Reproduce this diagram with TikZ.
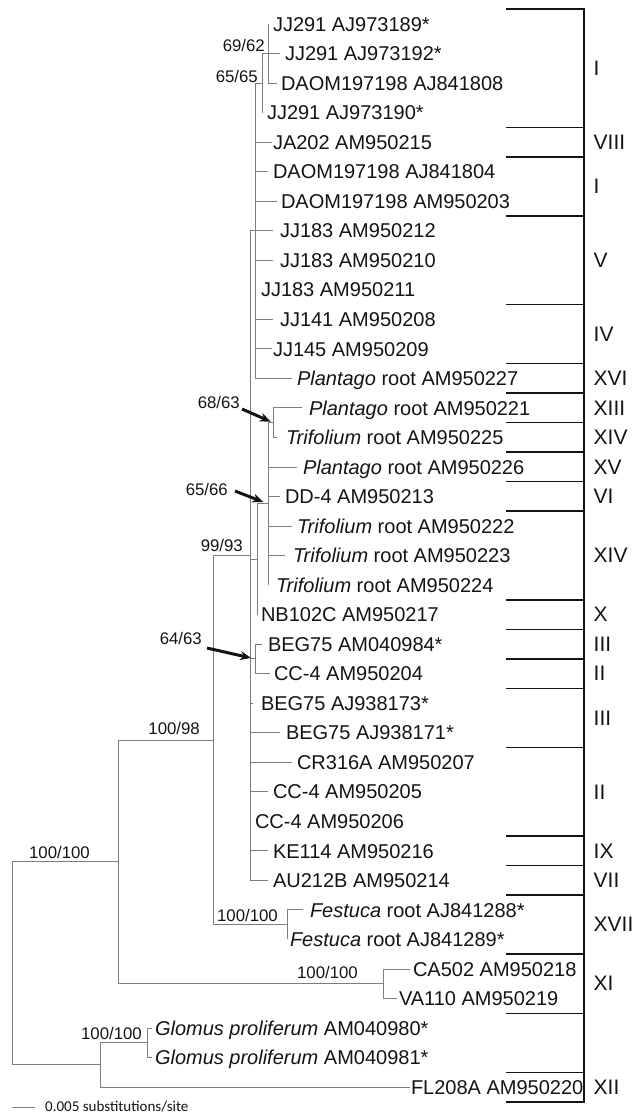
\documentclass[tikz,border=0pt]{standalone}
\usepackage{fontspec}
\setmainfont{Liberation Sans}
\newfontfamily\sbfont{Carlito}
\usetikzlibrary{arrows.meta}
\definecolor{treegray}{RGB}{125,125,125}
\definecolor{inkblack}{RGB}{20,20,20}
\newcommand\ry[1]{(24+((#1)-1)*29.53)}
\newcommand\by[1]{(24+((#1)-0.5)*29.53)}
\begin{document}
\begin{tikzpicture}[x=1pt,y=-1pt,
  branch/.style={draw=treegray,line width=0.9pt},
  bracket/.style={draw=inkblack,line width=1.5pt,line cap=rect},
  leaf/.style={anchor=base west,inner sep=0pt,text=inkblack,font=\fontsize{20}{24}\selectfont},
  suplab/.style={anchor=east,inner sep=0pt,text=inkblack,font=\fontsize{16.8}{20}\selectfont},
  romanlab/.style={anchor=west,inner sep=0pt,text=inkblack,font=\fontsize{21}{25}\selectfont},
  boldarrow/.style={draw=inkblack,line width=3pt,-{Stealth[length=11pt,width=9pt]}}]
\useasboundingbox (0,0) rectangle (635,1115);

% internal nodes
\coordinate (N69)   at (268,{\ry{2}});
\coordinate (N65)   at (262,{\ry{3}});
\coordinate (E)     at (255,{\ry{8}});
\coordinate (N6863) at (273,{\ry{14.5}});
\coordinate (N6566) at (268,{\ry{17.25}});
\coordinate (H)     at (257,{\ry{19.125}});
\coordinate (N6463) at (255,{\ry{22.5}});
\coordinate (D)     at (250,{\ry{19}});
\coordinate (F)     at (287,{\ry{31.5}});
\coordinate (C)     at (213,{\ry{25.25}});
\coordinate (CA)    at (383,{\ry{33.5}});
\coordinate (B)     at (118,{\ry{29.375}});
\coordinate (GP)    at (147,{\ry{35.5}});
\coordinate (G)     at (100,{\ry{36.25}});
\coordinate (R)     at (12,{\ry{32.8125}});

% leaves
\foreach \k/\tx/\lx/\txt in {
 1/268/274/{JJ291 AJ973189*},
 2/280/286/{JJ291 AJ973192*},
 3/277/282/{DAOM197198 AJ841808},
 4/262/268/{JJ291 AJ973190*},
 5/272/274/{JA202 AM950215},
 6/268/274/{DAOM197198 AJ841804},
 7/277/282/{DAOM197198 AM950203},
 8/273/281/{JJ183 AM950212},
 9/273/281/{JJ183 AM950210},
 10/255/262/{JJ183 AM950211},
 11/273/281/{JJ141 AM950208},
 12/272/274/{JJ145 AM950209},
 13/292/298/{\textit{Plantago} root AM950227},
 14/302/310/{\textit{Plantago} root AM950221},
 15/277/287/{\textit{Trifolium} root AM950225},
 16/297/304/{\textit{Plantago} root AM950226},
 17/280/286/{DD-4 AM950213},
 18/292/298/{\textit{Trifolium} root AM950222},
 19/285/294/{\textit{Trifolium} root AM950223},
 20/268/277/{\textit{Trifolium} root AM950224},
 21/257/262/{NB102C AM950217},
 22/262/269/{BEG75 AM040984*},
 23/270/275/{CC-4 AM950204},
 24/253/262/{BEG75 AJ938173*},
 25/280/287/{BEG75 AJ938171*},
 26/292/298/{CR316A AM950207},
 27/268/274/{CC-4 AM950205},
 28/250/256/{CC-4 AM950206},
 29/268/274/{KE114 AM950216},
 30/268/274/{AU212B AM950214},
 31/303/311/{\textit{Festuca} root AJ841288*},
 32/287/291/{\textit{Festuca} root AJ841289*},
 33/410/414/{CA502 AM950218},
 34/397/400/{VA110 AM950219},
 35/152/156/{\textit{Glomus proliferum} AM040980*},
 36/152/156/{\textit{Glomus proliferum} AM040981*},
 37/410/412/{FL208A AM950220}}{
  \coordinate (t\k) at (\tx,{\ry{\k}});
  \node[leaf] (l\k) at ({\lx-1.2},{\ry{\k}+7.2}) {\txt};
}

% branches
\draw[branch] (R) |- (B);
\draw[branch] (R) |- (G);
\draw[branch] (B) |- (C);
\draw[branch] (B) |- (CA);
\draw[branch] (C) |- (D);
\draw[branch] (C) |- (F);
\draw[branch] (D) |- (E);
\draw[branch] (D) |- (H);
\draw[branch] (D) |- (N6463);
\foreach \k in {24,...,30} \draw[branch] (D) |- (t\k);
\draw[branch] (E) |- (N65);
\foreach \k in {5,...,13} \draw[branch] (E) |- (t\k);
\draw[branch] (N65) |- (N69);
\draw[branch] (N65) |- (t4);
\foreach \k in {1,2,3} \draw[branch] (N69) |- (t\k);
\draw[branch] (H) |- (N6566);
\draw[branch] (H) |- (t21);
\draw[branch] (N6566) |- (N6863);
\foreach \k in {16,...,20} \draw[branch] (N6566) |- (t\k);
\foreach \k in {14,15} \draw[branch] (N6863) |- (t\k);
\foreach \k in {22,23} \draw[branch] (N6463) |- (t\k);
\foreach \k in {31,32} \draw[branch] (F) |- (t\k);
\foreach \k in {33,34} \draw[branch] (CA) |- (t\k);
\draw[branch] (G) |- (GP);
\draw[branch] (G) |- (t37);
\foreach \k in {35,36} \draw[branch] (GP) |- (t\k);

% support labels
\node[suplab] (s6962) at (265,45) {69/62};
\node[suplab] (s6565) at (258,76) {65/65};
\node[suplab] (s6863) at (240,402) {68/63};
\node[suplab] (s6566) at (228,489) {65/66};
\node[suplab] (s9993) at (243,545) {99/93};
\node[suplab] (s6463) at (202,638) {64/63};
\node[suplab] (s10098) at (200,728) {100/98};
\node[suplab] (sB) at (90,852) {100/100};
\node[suplab] (sF) at (278,915) {100/100};
\node[suplab] (sCA) at (358,972) {100/100};
\node[suplab] (sGP) at (142,1033) {100/100};

% bold arrows
\draw[boldarrow,shorten >=2.5pt] ([shift={(2,7)}]s6863.east) -- (N6863);
\draw[boldarrow,shorten >=5pt] ([shift={(7,2)}]s6566.east) -- (N6566);
\draw[boldarrow,shorten >=4pt] ([shift={(5,10)}]s6463.east) -- (N6463);

% group bracket
\coordinate (bt) at (584,{\by{0}});
\coordinate (bb) at (584,{\by{37}});
\draw[bracket] (bt) -- (bb);
\foreach \k in {0,4,5,7,10,12,13,14,15,16,17,20,21,22,23,25,28,29,30,32,34,36,37}{
  \coordinate (k\k) at (507,{\by{\k}});
  \draw[bracket] (k\k) -- (k\k -| bt);
}
\foreach \r/\lab [count=\i] in {2.5/I,5/VIII,6.5/I,9/V,11.5/IV,13/XVI,14/XIII,15/XIV,16/XV,17/VI,19/XIV,21/X,22/III,23/II,24.5/III,27/II,29/IX,30/VII,31.5/XVII,33.5/XI,37/XII}{
  \node[romanlab] (g\i) at (593.5,{\ry{\r}}) {\lab};
}

% scale bar
\coordinate (sb1) at (12,1107.5);
\coordinate (sb2) at (35,1107.5);
\draw[branch] (sb1) -- (sb2);
\node[anchor=base west,inner sep=0pt,text=inkblack,font=\sbfont\fontsize{15}{18}\selectfont] (sbl) at (45,1111.5) {0.005 substitutions/site};
\end{tikzpicture}
\end{document}
